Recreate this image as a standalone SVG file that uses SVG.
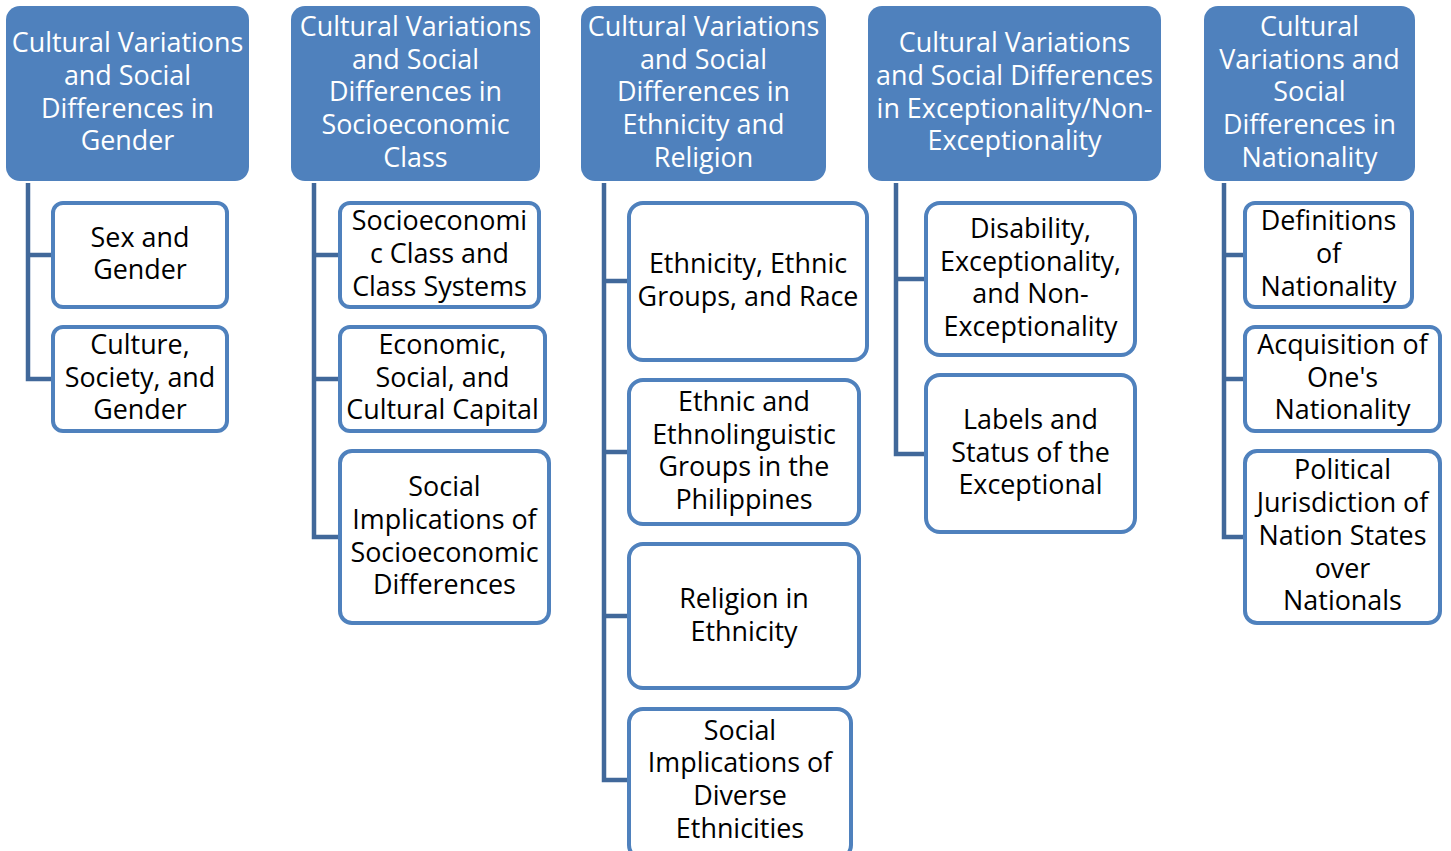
<svg xmlns="http://www.w3.org/2000/svg" width="1451" height="851" viewBox="0 0 1451 851">
  <style>
    .hdr { fill: #4F81BD; }
    .box { fill: #FFFFFF; stroke: #4F81BD; stroke-width: 4; }
    .link { fill: none; stroke: #41689A; stroke-width: 4.5; }
    text { font-family: "Open Sans", "Noto Sans", "Liberation Sans", sans-serif; font-size: 26.9px; text-anchor: middle; }
    .ht { fill: #FFFFFF; }
    .bt { fill: #000000; }
  </style>
  <rect width="1451" height="851" fill="#FFFFFF"/>

  <!-- tree connectors -->
  <g id="connectors">
    <path class="link" d="M28,183 V379 H54 M28,255 H54"/>
    <path class="link" d="M314,183 V537 H341 M314,255 H341 M314,379 H341"/>
    <path class="link" d="M604,183 V780 H630 M604,281 H630 M604,452 H630 M604,616 H630"/>
    <path class="link" d="M896,183 V454 H927 M896,279 H927"/>
    <path class="link" d="M1224,183 V537 H1246 M1224,255 H1246 M1224,379 H1246"/>
  </g>

  <!-- column 1: gender -->
  <g id="h-gender">
    <rect class="hdr" x="6" y="6" width="243" height="175" rx="14"/>
    <text class="ht"><tspan x="127.5" y="52">Cultural Variations</tspan><tspan x="127.5" y="85">and Social</tspan><tspan x="127.5" y="118">Differences in</tspan><tspan x="127.5" y="150">Gender</tspan></text>
  </g>
  <g id="n-sex-gender">
    <rect class="box" x="53" y="203" width="174" height="104" rx="10"/>
    <text class="bt"><tspan x="140" y="247">Sex and</tspan><tspan x="140" y="279">Gender</tspan></text>
  </g>
  <g id="n-culture-society">
    <rect class="box" x="53" y="327" width="174" height="104" rx="10"/>
    <text class="bt"><tspan x="140" y="354">Culture,</tspan><tspan x="140" y="387">Society, and</tspan><tspan x="140" y="419">Gender</tspan></text>
  </g>

  <!-- column 2: socioeconomic class -->
  <g id="h-class">
    <rect class="hdr" x="291" y="6" width="249" height="175" rx="14"/>
    <text class="ht"><tspan x="415.5" y="36">Cultural Variations</tspan><tspan x="415.5" y="69">and Social</tspan><tspan x="415.5" y="101">Differences in</tspan><tspan x="415.5" y="134">Socioeconomic</tspan><tspan x="415.5" y="167">Class</tspan></text>
  </g>
  <g id="n-class-systems">
    <rect class="box" x="340" y="203" width="199" height="104" rx="10"/>
    <text class="bt"><tspan x="439.5" y="230">Socioeconomi</tspan><tspan x="439.5" y="263">c Class and</tspan><tspan x="439.5" y="296">Class Systems</tspan></text>
  </g>
  <g id="n-capital">
    <rect class="box" x="340" y="327" width="205" height="104" rx="10"/>
    <text class="bt"><tspan x="442.5" y="354">Economic,</tspan><tspan x="442.5" y="387">Social, and</tspan><tspan x="442.5" y="419">Cultural Capital</tspan></text>
  </g>
  <g id="n-class-implications">
    <rect class="box" x="340" y="451" width="209" height="172" rx="12"/>
    <text class="bt"><tspan x="444.5" y="496">Social</tspan><tspan x="444.5" y="529">Implications of</tspan><tspan x="444.5" y="562">Socioeconomic</tspan><tspan x="444.5" y="594">Differences</tspan></text>
  </g>

  <!-- column 3: ethnicity and religion -->
  <g id="h-ethnicity">
    <rect class="hdr" x="581" y="6" width="245" height="175" rx="14"/>
    <text class="ht"><tspan x="703.5" y="36">Cultural Variations</tspan><tspan x="703.5" y="69">and Social</tspan><tspan x="703.5" y="101">Differences in</tspan><tspan x="703.5" y="134">Ethnicity and</tspan><tspan x="703.5" y="167">Religion</tspan></text>
  </g>
  <g id="n-race">
    <rect class="box" x="629" y="203" width="238" height="157" rx="14"/>
    <text class="bt"><tspan x="748" y="273">Ethnicity, Ethnic</tspan><tspan x="748" y="306">Groups, and Race</tspan></text>
  </g>
  <g id="n-ethnolinguistic">
    <rect class="box" x="629" y="380" width="230" height="144" rx="14"/>
    <text class="bt"><tspan x="744" y="411">Ethnic and</tspan><tspan x="744" y="444">Ethnolinguistic</tspan><tspan x="744" y="476">Groups in the</tspan><tspan x="744" y="509">Philippines</tspan></text>
  </g>
  <g id="n-religion">
    <rect class="box" x="629" y="544" width="230" height="144" rx="14"/>
    <text class="bt"><tspan x="744" y="608">Religion in</tspan><tspan x="744" y="641">Ethnicity</tspan></text>
  </g>
  <g id="n-diverse">
    <rect class="box" x="629" y="709" width="222" height="150" rx="14"/>
    <text class="bt"><tspan x="740" y="740">Social</tspan><tspan x="740" y="772">Implications of</tspan><tspan x="740" y="805">Diverse</tspan><tspan x="740" y="838">Ethnicities</tspan></text>
  </g>

  <!-- column 4: exceptionality -->
  <g id="h-exceptionality">
    <rect class="hdr" x="868" y="6" width="293" height="175" rx="14"/>
    <text class="ht"><tspan x="1014.5" y="52">Cultural Variations</tspan><tspan x="1014.5" y="85">and Social Differences</tspan><tspan x="1014.5" y="118">in Exceptionality/Non-</tspan><tspan x="1014.5" y="150">Exceptionality</tspan></text>
  </g>
  <g id="n-disability">
    <rect class="box" x="926" y="203" width="209" height="152" rx="14"/>
    <text class="bt"><tspan x="1030.5" y="238">Disability,</tspan><tspan x="1030.5" y="271">Exceptionality,</tspan><tspan x="1030.5" y="303">and Non-</tspan><tspan x="1030.5" y="336">Exceptionality</tspan></text>
  </g>
  <g id="n-labels">
    <rect class="box" x="926" y="375" width="209" height="157" rx="14"/>
    <text class="bt"><tspan x="1030.5" y="429">Labels and</tspan><tspan x="1030.5" y="462">Status of the</tspan><tspan x="1030.5" y="494">Exceptional</tspan></text>
  </g>

  <!-- column 5: nationality -->
  <g id="h-nationality">
    <rect class="hdr" x="1204" y="6" width="211" height="175" rx="14"/>
    <text class="ht"><tspan x="1309.5" y="36">Cultural</tspan><tspan x="1309.5" y="69">Variations and</tspan><tspan x="1309.5" y="101">Social</tspan><tspan x="1309.5" y="134">Differences in</tspan><tspan x="1309.5" y="167">Nationality</tspan></text>
  </g>
  <g id="n-definitions">
    <rect class="box" x="1245" y="203" width="167" height="104" rx="10"/>
    <text class="bt"><tspan x="1328.5" y="230">Definitions</tspan><tspan x="1328.5" y="263">of</tspan><tspan x="1328.5" y="296">Nationality</tspan></text>
  </g>
  <g id="n-acquisition">
    <rect class="box" x="1245" y="327" width="195" height="104" rx="10"/>
    <text class="bt"><tspan x="1342.5" y="354">Acquisition of</tspan><tspan x="1342.5" y="387">One's</tspan><tspan x="1342.5" y="419">Nationality</tspan></text>
  </g>
  <g id="n-jurisdiction">
    <rect class="box" x="1245" y="451" width="195" height="172" rx="12"/>
    <text class="bt"><tspan x="1342.5" y="479">Political</tspan><tspan x="1342.5" y="512">Jurisdiction of</tspan><tspan x="1342.5" y="545">Nation States</tspan><tspan x="1342.5" y="578">over</tspan><tspan x="1342.5" y="610">Nationals</tspan></text>
  </g>
</svg>
